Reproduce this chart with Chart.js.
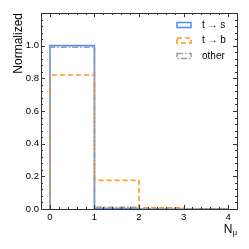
<!DOCTYPE html>
<html><head><meta charset="utf-8">
<script src="https://cdn.jsdelivr.net/npm/chart.js@4/dist/chart.umd.min.js"></script>
<style>html,body{margin:0;padding:0;background:#fff;}canvas{display:block;}</style>
</head><body>
<canvas id="c" width="249" height="249" style="width:249px;height:249px"></canvas>
<script>
const binEdges = [0, 1, 2, 3, 4];
const tToS = [1.0, 0.003, 0.0, 0.0];
const tToB = [0.82, 0.175, 0.007, 0.0];
const other = [0.99, 0.01, 0.0, 0.0];
const seriesNames = ['t \u2192 s', 't \u2192 b', 'other'];
const xTicks = [0, 1, 2, 3, 4];
const yTicks = [0.0, 0.2, 0.4, 0.6, 0.8, 1.0];

const colors = ['#5790fc', '#f89c20', '#9c9ca1'];
const dashes = [[], [5, 3], [6, 2, 1.5, 2]];
const FONT = "'Liberation Sans', Arial, Helvetica, sans-serif";

function stepPoints(vals) {
  const pts = [{x: binEdges[0], y: 0}];
  vals.forEach((v, i) => { pts.push({x: binEdges[i], y: v}); pts.push({x: binEdges[i + 1], y: v}); });
  pts.push({x: binEdges[binEdges.length - 1], y: 0});
  return pts;
}

const frame = {
  id: 'frame',
  afterDraw(chart) {
    const {ctx, chartArea: a, scales} = chart;
    const xs = scales.x, ys = scales.y;
    ctx.save();
    ctx.strokeStyle = '#333';
    ctx.lineWidth = 1;
    ctx.setLineDash([]);
    ctx.beginPath();
    for (let i = -1; i <= 21; i++) {
      const r = i * 0.2;
      const px = Math.round(xs.getPixelForValue(r)) + 0.5;
      if (px < a.left || px > a.right) continue;
      const major = i % 5 === 0;
      const len = major ? 4 : 2;
      ctx.moveTo(px, a.bottom); ctx.lineTo(px, a.bottom - len);
      ctx.moveTo(px, a.top); ctx.lineTo(px, a.top + len);
    }
    for (let i = 0; i <= 30; i++) {
      const v = i * 0.04;
      const py = Math.round(ys.getPixelForValue(v)) + 0.5;
      if (py < a.top || py > a.bottom) continue;
      const major = i % 5 === 0;
      const len = major ? 4 : 2;
      ctx.moveTo(a.left, py); ctx.lineTo(a.left + len, py);
      ctx.moveTo(a.right, py); ctx.lineTo(a.right - len, py);
    }
    ctx.stroke();
    ctx.strokeRect(Math.round(a.left) + 0.5, Math.round(a.top) + 0.5, Math.round(a.right - a.left), Math.round(a.bottom - a.top));

    // legend
    ctx.lineWidth = 1.6;
    const bx = a.right - 60, tx = a.right - 35;
    seriesNames.forEach((n, i) => {
      const cy = a.top + 12 + i * 15.5;
      ctx.strokeStyle = colors[i];
      ctx.setLineDash(dashes[i]);
      ctx.strokeRect(bx, cy - 2.5, 14, 5);
      ctx.setLineDash([]);
      ctx.fillStyle = '#000';
      ctx.font = '10px ' + FONT;
      ctx.textBaseline = 'middle';
      ctx.textAlign = 'left';
      ctx.fillText(n, tx, cy);
    });

    // x title N_mu
    ctx.fillStyle = '#000';
    ctx.textBaseline = 'alphabetic';
    ctx.textAlign = 'left';
    ctx.font = '12px ' + FONT;
    const nW = ctx.measureText('N').width;
    ctx.font = '8px ' + FONT;
    const muW = ctx.measureText('\u03bc').width;
    const startX = a.right - nW - muW;
    ctx.font = '12px ' + FONT;
    ctx.fillText('N', startX, 233);
    ctx.font = '8px ' + FONT;
    ctx.fillText('\u03bc', startX + nW, 235);
    ctx.restore();
  }
};

const datasets = [tToS, tToB, other].map((vals, i) => ({
  label: seriesNames[i],
  data: stepPoints(vals),
  borderColor: colors[i],
  backgroundColor: 'transparent',
  borderDash: dashes[i],
  borderWidth: 1.6,
  pointRadius: 0,
  fill: false,
  tension: 0,
  order: 2 - i
}));

new Chart(document.getElementById('c'), {
  type: 'line',
  data: {datasets},
  options: {
    responsive: false,
    animation: false,
    devicePixelRatio: 1,
    layout: {padding: {top: 13, right: 12, left: 11, bottom: 0}},
    plugins: {legend: {display: false}, tooltip: {enabled: false}},
    scales: {
      x: {
        type: 'linear', min: -0.2, max: 4.2,
        grid: {display: false, drawTicks: false},
        border: {display: false},
        afterBuildTicks: s => { s.ticks = xTicks.map(v => ({value: v})); },
        afterFit: s => { s.height = 40; },
        ticks: {autoSkip: false, maxRotation: 0, padding: 3, color: '#000',
          font: {family: FONT, size: 9.5}, callback: v => String(v)}
      },
      y: {
        type: 'linear', min: 0, max: 1.2,
        grid: {display: false, drawTicks: false},
        border: {display: false},
        afterBuildTicks: s => { s.ticks = yTicks.map(v => ({value: v})); },
        afterFit: s => { s.width = 30; },
        ticks: {autoSkip: false, padding: 2, color: '#000',
          font: {family: FONT, size: 9.5}, callback: v => Number(v).toFixed(1)},
        title: {display: true, text: 'Normalized', align: 'end', color: '#000',
          font: {family: FONT, size: 12}, padding: {top: 0, bottom: 0}}
      }
    }
  },
  plugins: [frame]
});
</script>
</body></html>
